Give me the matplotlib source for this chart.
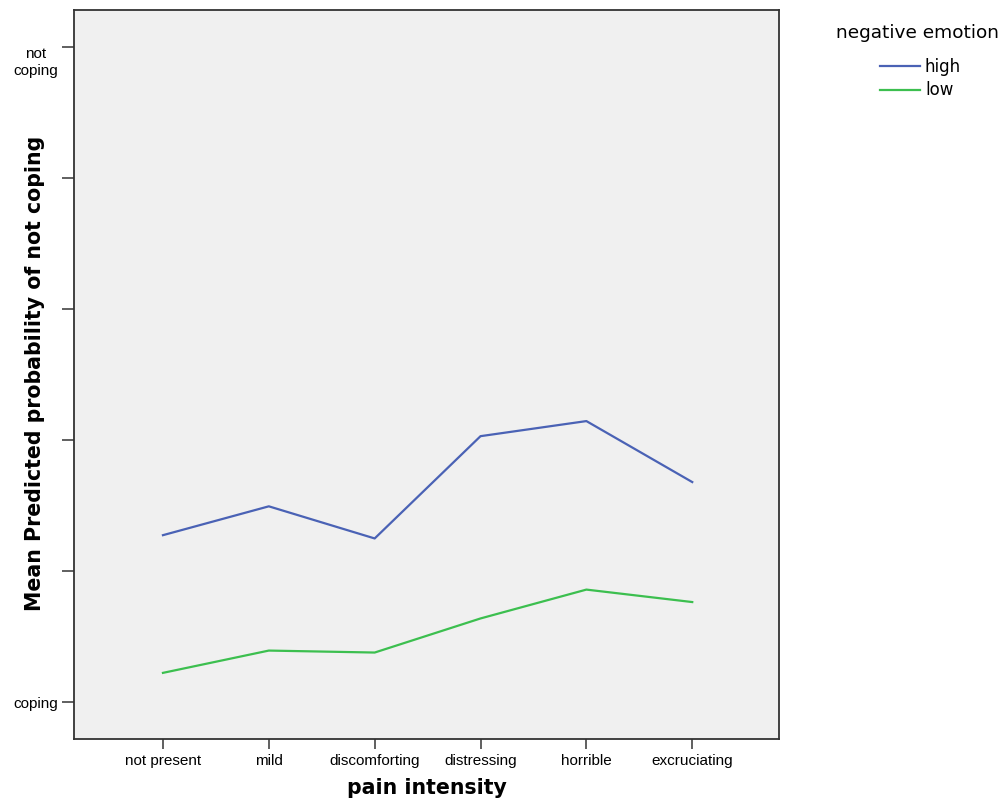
import matplotlib
matplotlib.use("Agg")
import matplotlib.pyplot as plt
from matplotlib.lines import Line2D

categories = ["not present", "mild", "discomforting", "distressing", "horrible", "excruciating"]
high = [0.255, 0.299, 0.250, 0.406, 0.429, 0.336]
low = [0.045, 0.079, 0.076, 0.128, 0.172, 0.153]
ytick_vals = [0.0, 0.2, 0.4, 0.6, 0.8, 1.0]
ytick_labels = ["coping", "", "", "", "", "not\ncoping"]
series_names = ["high", "low"]

BLUE = "#4a62b5"
GREEN = "#3cbf4f"
tick_font = ["Liberation Sans", "DejaVu Sans"]

fig = plt.figure(figsize=(10.06, 8.10), dpi=100)
ax = fig.add_axes([0.0736, 0.0877, 0.7008, 0.900])
ax.set_facecolor("#f0f0f0")

x = list(range(len(categories)))
ax.plot(x, high, color=BLUE, lw=1.6, label=series_names[0])
ax.plot(x, low, color=GREEN, lw=1.6, label=series_names[1])

ax.set_xlim(-0.84, 5.82)
ax.set_ylim(-0.0558, 1.056)
ax.set_xticks(x)
ax.set_xticklabels(categories, fontsize=11, family=tick_font)
ax.set_yticks(ytick_vals)
ax.set_yticklabels(ytick_labels, fontsize=11, family=tick_font, ha="center",
                   linespacing=1.3)
ax.get_yticklabels()[-1].set_va("top")
ax.tick_params(axis="y", length=8.5, width=1.2, color="#444444", pad=19)
ax.tick_params(axis="x", length=7, width=1.2, color="#444444", pad=4)
for s in ax.spines.values():
    s.set_color("#333333")
    s.set_linewidth(1.3)

ax.set_xlabel("pain intensity", fontsize=14.8, fontweight="bold", labelpad=7,
              family="DejaVu Sans")
fig.text(35 / 1006, 1 - 373 / 810, "Mean Predicted probability of not coping",
         rotation=90, ha="center", va="center", fontsize=14.8, fontweight="bold",
         family="DejaVu Sans")

fig.text(918 / 1006, 1 - 33 / 810, "negative emotion", ha="center", va="center",
         fontsize=13.3, family="DejaVu Sans")
handles = [Line2D([], [], color=BLUE, lw=1.6), Line2D([], [], color=GREEN, lw=1.6)]
leg = fig.legend(handles, series_names,
                 loc="upper left", bbox_to_anchor=(880 / 1006, 1 - 58 / 810), frameon=False,
                 borderpad=0, borderaxespad=0,
                 handlelength=2.4, handletextpad=0.3,
                 labelspacing=0.32, prop={"family": "DejaVu Sans", "size": 12})

fig.savefig("out.png", dpi=100)
